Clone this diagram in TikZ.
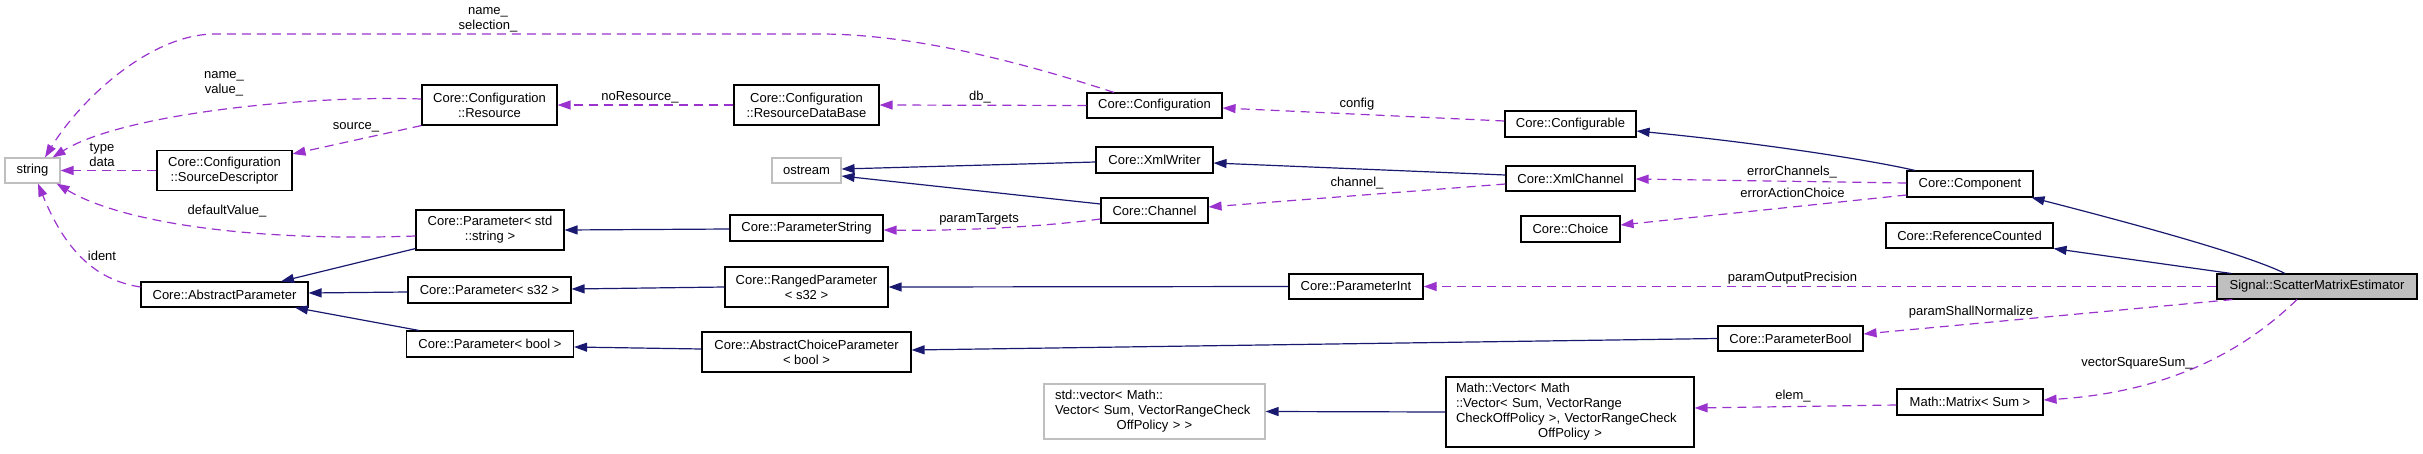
\documentclass[tikz,border=0pt]{standalone}
\usepackage{fontspec}
\setmainfont{Liberation Sans}
\usetikzlibrary{arrows.meta,calc}
\definecolor{inhcol}{RGB}{25,25,112}
\definecolor{usecol}{RGB}{154,50,205}
\definecolor{extcol}{RGB}{191,191,191}
\begin{document}
\begin{tikzpicture}[x=1pt,y=-1pt,
  font=\fontsize{13}{15}\selectfont,
  cls/.style={draw=black,line width=1.1pt,inner sep=0pt,align=center,fill=white},
  extcls/.style={draw=extcol,line width=1.1pt,inner sep=0pt,align=center,fill=white},
  hicls/.style={draw=black,line width=1.1pt,inner sep=0pt,align=center,fill=extcol},
  inhedge/.style={draw=inhcol,line width=1.2pt,-{Triangle[length=13pt,width=9pt]}},
  useedge/.style={draw=usecol,line width=1.2pt,dash pattern=on 9pt off 6pt,-{Triangle[length=13pt,width=9pt]}},
  lbl/.style={inner sep=0pt,align=center}]
\useasboundingbox (0,0) rectangle (2423,453);

% nodes
\node[extcls,minimum width=55pt,minimum height=25pt] (string) at (32.5,170.5) {string};
\node[cls,minimum width=135pt,minimum height=40pt] (res) at (489.5,105) {Core::Configuration\\::Resource};
\node[cls,minimum width=135pt,minimum height=40pt] (srcd) at (224.5,170.5) {Core::Configuration\\::SourceDescriptor};
\node[cls,minimum width=148pt,minimum height=40pt] (pstr) at (490,230) {Core::Parameter< std\\::string >};
\node[cls,minimum width=167pt,minimum height=25pt] (absp) at (224.5,294.5) {Core::AbstractParameter};
\node[cls,minimum width=163pt,minimum height=26pt] (ps32) at (489.5,290) {Core::Parameter< s32 >};
\node[cls,minimum width=167pt,minimum height=26pt] (pbool) at (490,344) {Core::Parameter< bool >};
\node[cls,minimum width=145pt,minimum height=40pt] (rdb) at (806.5,105) {Core::Configuration\\::ResourceDataBase};
\node[cls,minimum width=135pt,minimum height=25pt] (conf) at (1154.5,105.5) {Core::Configuration};
\node[extcls,minimum width=69pt,minimum height=25pt] (ostream) at (806.5,170.5) {ostream};
\node[cls,minimum width=117pt,minimum height=26pt] (xmlw) at (1154.5,160) {Core::XmlWriter};
\node[cls,minimum width=107pt,minimum height=25pt] (chan) at (1154.5,210.5) {Core::Channel};
\node[cls,minimum width=153pt,minimum height=26pt] (pstring) at (806.5,228) {Core::ParameterString};
\node[cls,minimum width=163pt,minimum height=40pt] (ranged) at (806.5,287) {Core::RangedParameter\\< s32 >};
\node[cls,minimum width=209pt,minimum height=40pt] (acp) at (806.5,352) {Core::AbstractChoiceParameter\\< bool >};
\node[extcls,minimum width=221pt,minimum height=55pt,align=left,text width=199pt] (stdvec) at (1154.5,411.5)
  {std::vector< Math::\\Vector< Sum, VectorRangeCheck\\\makebox[199pt][c]{OffPolicy > >}};
\node[cls,minimum width=131pt,minimum height=26pt] (confb) at (1570.5,124) {Core::Configurable};
\node[cls,minimum width=129pt,minimum height=25pt] (xmlc) at (1570.5,178.5) {Core::XmlChannel};
\node[cls,minimum width=99pt,minimum height=26pt] (choice) at (1570.5,229) {Core::Choice};
\node[cls,minimum width=134pt,minimum height=25pt] (pint) at (1356,286.5) {Core::ParameterInt};
\node[cls,minimum width=145pt,minimum height=25pt] (pboolc) at (1790.5,338.5) {Core::ParameterBool};
\node[cls,minimum width=248pt,minimum height=70pt,align=left,text width=228pt] (mvec) at (1570,412)
  {Math::Vector< Math\\::Vector< Sum, VectorRange\\CheckOffPolicy >, VectorRangeCheck\\\makebox[228pt][c]{OffPolicy >}};
\node[cls,minimum width=126pt,minimum height=26pt] (comp) at (1970,184) {Core::Component};
\node[cls,minimum width=167pt,minimum height=25pt] (refc) at (1969.5,235.5) {Core::ReferenceCounted};
\node[hicls,minimum width=200pt,minimum height=25pt] (sig) at (2317,286.5) {Signal::ScatterMatrixEstimator};
\node[cls,minimum width=146pt,minimum height=26pt] (mmat) at (1970,402) {Math::Matrix< Sum >};

% inheritance edges
\draw[inhedge] ([xshift=-32pt]sig.north) .. controls (2250,256) and (2150,228) .. ([xshift=-2pt]comp.south east);
\draw[inhedge] ([xshift=-86pt]sig.north) -- (refc.south east);
\draw[inhedge] ([xshift=-55pt]comp.north) .. controls (1870,160) and (1760,143) .. ([yshift=-7pt]confb.east);
\draw[inhedge] ([yshift=3.5pt]xmlc.west) -- ([yshift=-3pt]xmlw.east);
\draw[inhedge] ([yshift=-2pt]xmlw.west) -- ([yshift=1.5pt]ostream.east);
\draw[inhedge] ([yshift=6.5pt]chan.west) -- ([yshift=-5.5pt]ostream.east);
\draw[inhedge] ([yshift=-1pt]pstring.west) -- (pstr.east);
\draw[inhedge] ([yshift=2pt]pstr.south west) -- ([xshift=56.5pt]absp.north);
\draw[inhedge] ([yshift=-2pt]ps32.west) -- ([yshift=1.5pt]absp.east);
\draw[inhedge] ([xshift=-71pt]pbool.north) -- ([xshift=70.5pt]absp.south);
\draw[inhedge] (ranged.west) -- ([yshift=1pt]ps32.east);
\draw[inhedge] (pint.west) -- (ranged.east);
\draw[inhedge] (pboolc.west) -- ([yshift=2pt]acp.east);
\draw[inhedge] ([yshift=3pt]acp.west) -- ([yshift=-3pt]pbool.east);
\draw[inhedge] (mvec.west) -- (stdvec.east);

% usage edges
\draw[useedge] ([xshift=-40.5pt]conf.north) .. controls (1000,55) and (900,34) .. (820,34) -- (215,34) .. controls (150,34) and (80,100) .. ([xshift=12.5pt]string.north);
\draw[useedge] ([yshift=6pt]res.west) .. controls (300,95) and (120,115) .. ([xshift=-8pt]string.north east);
\draw[useedge] (srcd.west) -- (string.east);
\draw[useedge] (res.south west) -- ([yshift=-4pt]srcd.north east);
\draw[useedge] (rdb.west) -- (res.east);
\draw[useedge] (conf.west) -- (rdb.east);
\draw[useedge] ([yshift=3pt]confb.west) -- ([yshift=-2.5pt]conf.east);
\draw[useedge] ([yshift=-6pt]pstr.west) .. controls (250,242) and (120,222) .. ([xshift=-4pt]string.south east);
\draw[useedge] ([yshift=7.5pt]absp.west) .. controls (95,280) and (65,250) .. ([xshift=5.5pt]string.south);
\draw[useedge] ([yshift=-5.5pt]xmlc.west) -- ([yshift=3.5pt]chan.east);
\draw[useedge] ([yshift=-8.5pt]chan.west) .. controls (1040,227) and (960,231) .. ([yshift=-2pt]pstring.east);
\draw[useedge] ([yshift=1pt]comp.west) -- ([yshift=-0.5pt]xmlc.east);
\draw[useedge] ([yshift=-11pt]comp.west) -- ([yshift=4pt]choice.east);
\draw[useedge] (sig.west) -- (pint.east);
\draw[useedge] ([xshift=16pt]sig.south west) -- ([yshift=4.5pt]pboolc.east);
\draw[useedge] ([xshift=-20pt]sig.south) .. controls (2245,350) and (2170,392) .. ([yshift=2pt]mmat.east);
\draw[useedge] ([yshift=-3pt]mmat.west) -- ([yshift=4pt]mvec.east);

% labels
\node[lbl] (l1) at (488,20) {name\_\\selection\_};
\node[lbl] (l2) at (224,84) {name\_\\value\_};
\node[lbl] (l3) at (356,127) {source\_};
\node[lbl] (l4) at (102,155) {type\\data};
\node[lbl] (l5) at (227,211) {defaultValue\_};
\node[lbl] (l6) at (102,256) {ident};
\node[lbl] (l7) at (640,97) {noResource\_};
\node[lbl] (l8) at (980,97) {db\_};
\node[lbl] (l9) at (979,219) {paramTargets};
\node[lbl] (l10) at (1357,104) {config};
\node[lbl] (l11) at (1357,183) {channel\_};
\node[lbl] (l12) at (1792,172) {errorChannels\_};
\node[lbl] (l13) at (1792.5,193) {errorActionChoice};
\node[lbl] (l14) at (1792.5,278) {paramOutputPrecision};
\node[lbl] (l15) at (1971,312) {paramShallNormalize};
\node[lbl] (l16) at (2137,363) {vectorSquareSum\_};
\node[lbl] (l17) at (1793,396) {elem\_};
\end{tikzpicture}
\end{document}
